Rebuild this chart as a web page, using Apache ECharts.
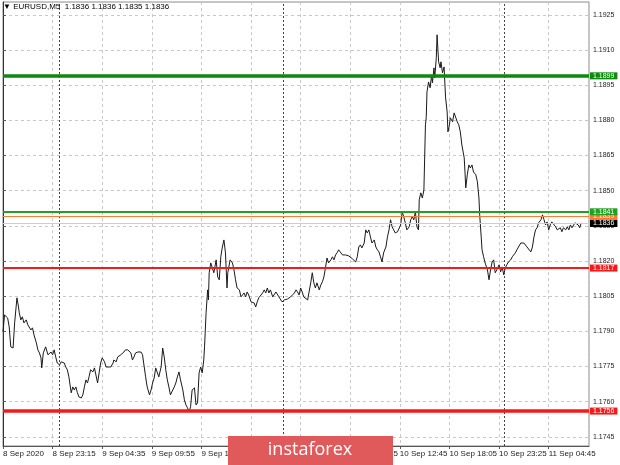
<!DOCTYPE html>
<html><head><meta charset="utf-8">
<script src="https://cdn.jsdelivr.net/npm/echarts@6/dist/echarts.min.js"></script>
<style>html,body{margin:0;padding:0;background:#fff}#c{width:620px;height:465px}</style>
</head><body><div id="c"></div>
<script>
const symbolName = 'EURUSD,M5';
const lastBar = [1.1836, 1.1836, 1.1835, 1.1836];
const xLabels = ['8 Sep 2020','8 Sep 23:15','9 Sep 04:35','9 Sep 09:55','9 Sep 15:15','9 Sep 20:35','10 Sep 01:55','10 Sep 07:15','10 Sep 12:45','10 Sep 18:05','10 Sep 23:25','11 Sep 04:45'];
const barsPerLabel = 64;
const daySeparators = [73, 361, 647];
const yTicks = [1.1745,1.1760,1.1775,1.1790,1.1805,1.1820,1.1835,1.1850,1.1865,1.1880,1.1895,1.1910,1.1925];
const resistance = [1.1899, 1.1841];
const entryLevel = [1.1839];
const support = [1.1817, 1.1756];
const bidPrice = 1.1836;

const barIndex = [0,2,6,8,10,13,15,18,20,21,23,25,27,30,32,34,36,38,40,43,45,47,49,50,52,55,58,62,64,66,68,70,73,75,77,79,81,83,85,88,90,92,94,96,98,101,103,105,107,109,111,113,116,118,120,122,124,126,128,131,133,135,139,142,143,146,148,150,152,154,156,158,161,162,165,167,169,171,174,176,178,180,182,184,186,189,191,193,195,197,199,201,204,206,208,210,212,214,216,219,221,223,225,227,229,232,234,236,238,240,242,244,247,249,251,253,255,257,259,260,262,264,265,266,268,270,272,275,277,279,281,283,285,287,289,290,293,295,296,298,300,302,305,307,309,311,313,315,317,320,322,324,326,328,330,332,335,337,339,341,343,345,348,350,352,354,356,358,360,363,365,367,369,371,373,376,378,380,382,384,386,388,390,393,395,397,399,401,403,405,408,410,412,414,416,418,420,423,425,427,429,431,433,435,438,440,442,444,446,448,451,453,455,457,459,461,463,466,468,470,472,474,476,479,481,483,485,487,489,491,494,496,498,500,502,504,506,509,511,513,515,517,519,521,524,526,528,530,532,534,536,537,539,541,543,545,546,547,549,551,553,554,556,557,559,560,562,564,565,567,569,571,573,574,576,577,580,582,584,586,588,590,592,595,596,597,599,601,603,605,607,610,612,614,615,617,618,620,622,625,627,629,631,633,635,637,640,642,644,646,648,650,652,655,657,659,661,663,665,668,670,672,674,676,678,681,683,685,687,689,691,694,696,698,700,702,704,706,708,710,713,715,717,719,721,723,726,728,730,732,734,736,738,740,742,744,746];

const closes = [1.17898,1.17970,1.17957,1.17919,1.17834,1.17829,1.17936,1.18043,1.18004,1.17979,1.17949,1.17962,1.17936,1.17949,1.17928,1.17936,1.17906,1.17915,1.17885,1.17851,1.17821,1.17808,1.17787,1.17744,1.17808,1.17834,1.17800,1.17812,1.17800,1.17821,1.17791,1.17765,1.17757,1.17770,1.17778,1.17765,1.17748,1.17736,1.17706,1.17638,1.17663,1.17650,1.17663,1.17638,1.17620,1.17616,1.17629,1.17663,1.17693,1.17680,1.17706,1.17736,1.17727,1.17744,1.17736,1.17680,1.17723,1.17765,1.17787,1.17770,1.17748,1.17744,1.17748,1.17765,1.17778,1.17770,1.17791,1.17787,1.17800,1.17808,1.17812,1.17821,1.17821,1.17829,1.17808,1.17778,1.17791,1.17808,1.17812,1.17808,1.17812,1.17800,1.17808,1.17706,1.17663,1.17629,1.17650,1.17680,1.17701,1.17744,1.17736,1.17706,1.17748,1.17829,1.17791,1.17736,1.17693,1.17663,1.17629,1.17650,1.17663,1.17680,1.17706,1.17727,1.17693,1.17650,1.17608,1.17586,1.17574,1.17557,1.17578,1.17650,1.17659,1.17586,1.17595,1.17723,1.17748,1.17723,1.17778,1.17834,1.17979,1.18077,1.18034,1.18150,1.18192,1.18196,1.18150,1.18205,1.18132,1.18120,1.18218,1.18260,1.18290,1.18235,1.18085,1.18150,1.18205,1.18213,1.18192,1.18162,1.18120,1.18085,1.18077,1.18047,1.18055,1.18064,1.18047,1.18068,1.18055,1.18026,1.18034,1.18021,1.18004,1.18026,1.18043,1.18047,1.18064,1.18077,1.18064,1.18085,1.18064,1.18077,1.18047,1.18043,1.18068,1.18064,1.18047,1.18043,1.18026,1.18034,1.18026,1.18038,1.18034,1.18047,1.18055,1.18064,1.18077,1.18068,1.18055,1.18085,1.18068,1.18047,1.18047,1.18034,1.18034,1.18107,1.18150,1.18107,1.18085,1.18107,1.18077,1.18098,1.18111,1.18132,1.18171,1.18213,1.18192,1.18205,1.18218,1.18205,1.18226,1.18235,1.18248,1.18239,1.18226,1.18218,1.18226,1.18218,1.18222,1.18218,1.18209,1.18205,1.18196,1.18218,1.18260,1.18269,1.18256,1.18277,1.18333,1.18320,1.18333,1.18303,1.18277,1.18290,1.18260,1.18248,1.18239,1.18218,1.18196,1.18235,1.18260,1.18303,1.18333,1.18376,1.18346,1.18333,1.18320,1.18325,1.18333,1.18354,1.18410,1.18389,1.18363,1.18333,1.18346,1.18376,1.18389,1.18376,1.18410,1.18346,1.18333,1.18461,1.18491,1.18469,1.18503,1.18781,1.18811,1.18922,1.18964,1.18939,1.18994,1.18960,1.19024,1.18981,1.19067,1.19165,1.19050,1.19024,1.19050,1.19003,1.19028,1.18896,1.18836,1.18751,1.18781,1.18811,1.18794,1.18832,1.18836,1.18794,1.18781,1.18751,1.18695,1.18640,1.18580,1.18512,1.18568,1.18610,1.18597,1.18610,1.18580,1.18568,1.18538,1.18469,1.18397,1.18299,1.18248,1.18218,1.18192,1.18162,1.18120,1.18162,1.18196,1.18205,1.18150,1.18162,1.18184,1.18154,1.18175,1.18141,1.18171,1.18184,1.18196,1.18205,1.18218,1.18226,1.18235,1.18248,1.18260,1.18277,1.18282,1.18277,1.18269,1.18260,1.18256,1.18239,1.18260,1.18303,1.18333,1.18342,1.18363,1.18376,1.18397,1.18376,1.18354,1.18367,1.18333,1.18354,1.18367,1.18363,1.18346,1.18333,1.18325,1.18342,1.18325,1.18342,1.18333,1.18346,1.18333,1.18354,1.18342,1.18346,1.18363,1.18367,1.18354,1.18342,1.18363];

const FONT = 'Liberation Sans';
function tag(value, color, width, lineColor) {
  return {
    yAxis: value,
    lineStyle: { color: lineColor || color, width: width, type: 'solid' },
    label: {
      show: true, position: 'end', distance: 1,
      formatter: value.toFixed(4),
      backgroundColor: color, color: '#fff',
      fontFamily: FONT, fontSize: 7, lineHeight: 7, padding: [0, 3]
    }
  };
}

const lineData = barIndex.map((b, i) => [b, closes[i]]);
const chart = echarts.init(document.getElementById('c'), null, { renderer: 'canvas' });
chart.setOption({
  animation: false,
  backgroundColor: '#fff',
  title: {
    text: '\u25BC ' + symbolName + '  ' + lastBar.map(v => v.toFixed(4)).join(' '),
    left: 3, top: 3, padding: 0,
    textStyle: { fontFamily: FONT, fontSize: 8, fontWeight: 'normal', color: '#000' }
  },
  grid: { left: 2, right: 31, top: 2, bottom: 19, show: true, borderColor: '#8a8a8a', borderWidth: 1, backgroundColor: '#fff' },
  xAxis: {
    type: 'value', min: 0, max: 756, interval: barsPerLabel,
    axisLine: { show: true, lineStyle: { color: '#555', width: 1 } },
    axisTick: { show: true, length: 3, lineStyle: { color: '#555' } },
    axisLabel: {
      showMaxLabel: false, align: 'left', margin: 4,
      fontFamily: FONT, fontSize: 8, color: '#222',
      formatter: v => { const k = Math.round(v / barsPerLabel); return (k * barsPerLabel === v && xLabels[k]) ? xLabels[k] : ''; }
    },
    splitLine: { show: true, lineStyle: { color: '#c8c8c8', type: [3, 3], width: 1 } }
  },
  yAxis: {
    type: 'value', position: 'right', min: 1.17411, max: 1.19305, scale: true,
    axisLine: { show: true, lineStyle: { color: '#333', width: 1 } },
    axisTick: { show: true, length: 3, inside: false, customValues: yTicks, lineStyle: { color: '#555' } },
    axisLabel: { customValues: yTicks, margin: 4, fontFamily: FONT, fontSize: 7, color: '#222', formatter: v => v.toFixed(4) },
    splitLine: { show: true, lineStyle: { color: '#c8c8c8', type: [3, 3], width: 1 } }
  },
  series: [{
    type: 'line', data: lineData, showSymbol: false, symbol: 'none',
    lineStyle: { color: '#1a1a1a', width: 1 }, z: 3,
    markLine: {
      silent: true, symbol: 'none', animation: false, precision: 5,
      data: [
        ...daySeparators.map(d => ({ xAxis: d, lineStyle: { color: '#444', type: [2, 2], width: 1 }, label: { show: false } })),
        { yAxis: bidPrice, lineStyle: { color: '#cfc8e0', width: 1, type: 'solid' },
          label: { show: true, position: 'end', distance: 1, formatter: bidPrice.toFixed(4), backgroundColor: '#000', color: '#fff', fontFamily: FONT, fontSize: 7, lineHeight: 7, padding: [0, 3] } },
        tag(entryLevel[0], '#ff7a30', 1),
        tag(resistance[1], '#22a022', 2),
        tag(resistance[0], '#0d8a0d', 3.5),
        tag(support[0], '#f51a1a', 2),
        tag(support[1], '#f51a1a', 3.5)
      ]
    }
  }],
  graphic: [
    { type: 'rect', z: 100, zlevel: 1, shape: { x: 228, y: 436, width: 165, height: 29 }, style: { fill: '#e05a5c' } },
    { type: 'text', z: 101, zlevel: 1, x: 310, y: 450, style: { text: 'instaforex', fill: '#fff', fontSize: 18, fontFamily: '"Open Sans", Lato, "Liberation Sans", sans-serif', fontWeight: 'normal', align: 'center', verticalAlign: 'middle' } }
  ]
});
</script></body></html>
